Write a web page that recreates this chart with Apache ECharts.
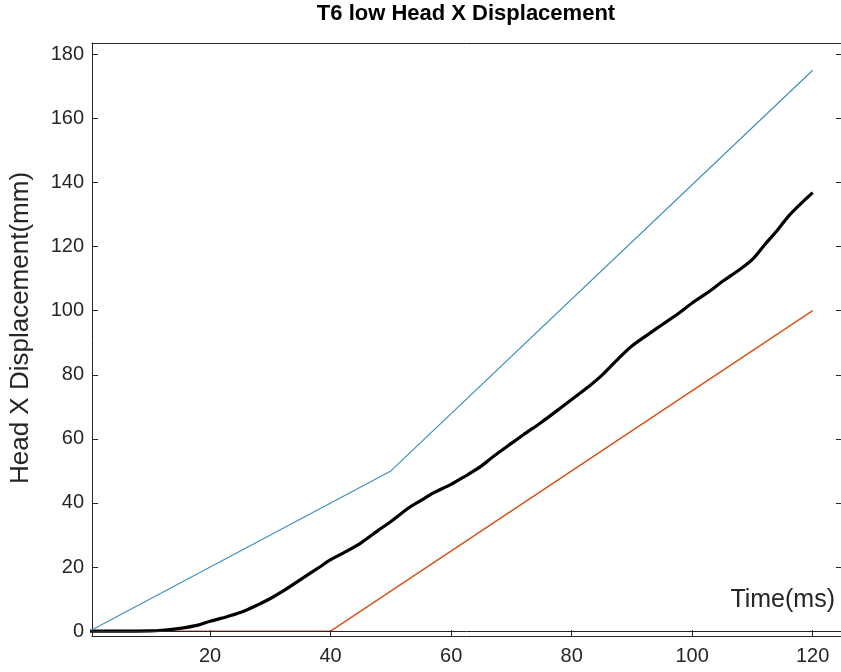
<!DOCTYPE html>
<html>
<head>
<meta charset="utf-8">
<script src="https://cdn.jsdelivr.net/npm/echarts@6/dist/echarts.min.js"></script>
<style>
html,body{margin:0;padding:0;background:#fff;}
#main{width:841px;height:672px;}
</style>
</head>
<body>
<div id="main"></div>
<script>
// ---- data ----
const xTicks = [20, 40, 60, 80, 100, 120];
const yTicks = [0, 20, 40, 60, 80, 100, 120, 140, 160, 180];

const upperTime = [0, 50, 120];
const upperDisp = [0, 50, 175];

const lowerTime = [0, 40, 120];
const lowerDisp = [0, 0, 100];

const headTime = [0, 5, 10, 12, 15, 18, 20, 22, 25, 28, 30, 32, 35, 38, 40, 42, 45, 48, 50, 53, 55, 57, 60, 62, 65, 67, 70, 72, 75, 78, 80, 83, 85, 88, 90, 93, 95, 98, 100, 103, 105, 108, 110, 112, 114, 116, 118, 120];
const headDisp = [0, 0, 0.1, 0.3, 0.9, 1.9, 3.1, 4.1, 5.8, 8.3, 10.2, 12.4, 16.1, 19.8, 22.3, 24.3, 27.5, 31.6, 34.2, 38.5, 40.8, 43.1, 45.8, 48, 51.5, 54.5, 58.6, 61.3, 65.2, 69.4, 72.3, 76.6, 79.8, 85.5, 89, 93, 95.6, 99.5, 102.4, 106.2, 109.1, 113, 116, 120.5, 124.8, 129.5, 133.3, 136.8];

const pairs = (xs, ys) => xs.map((x, i) => [x, ys[i]]);

const axisColor = '#262626';
const FONT = 'Liberation Sans, Arial, sans-serif';

const chart = echarts.init(document.getElementById('main'), null, {renderer: 'canvas'});
chart.setOption({
  animation: false,
  backgroundColor: '#fff',
  title: {
    text: 'T6 low Head X Displacement',
    left: 461, top: -2, textAlign: 'center',
    textStyle: {fontFamily: FONT, fontSize: 22, fontWeight: 'bold', color: '#000'}
  },
  grid: {left: 92, top: 43, right: -2, bottom: 36, containLabel: false},
  xAxis: [{
    type: 'value', min: 0.4, max: 124.7,
    axisLine: {show: true, onZero: false, lineStyle: {color: axisColor, width: 1}},
    axisTick: {show: true, inside: true, length: 6, customValues: xTicks, lineStyle: {color: axisColor}},
    axisLabel: {customValues: xTicks, fontFamily: FONT, fontSize: 20, color: axisColor, margin: 10},
    splitLine: {show: false}
  }, {
    type: 'value', position: 'top', min: 0.4, max: 124.7,
    axisLine: {show: true, onZero: false, lineStyle: {color: axisColor, width: 1}},
    axisTick: {show: false}, axisLabel: {show: false}, splitLine: {show: false}
  }],
  yAxis: [{
    type: 'value', min: -1.5, max: 183.5,
    axisLine: {show: true, onZero: false, lineStyle: {color: axisColor, width: 1}},
    axisTick: {show: true, inside: true, length: 6, customValues: yTicks, lineStyle: {color: axisColor}},
    axisLabel: {customValues: yTicks, fontFamily: FONT, fontSize: 20, color: axisColor, margin: 8},
    splitLine: {show: false}
  }, {
    type: 'value', position: 'right', min: -1.5, max: 183.5,
    axisLine: {show: true, onZero: false, lineStyle: {color: axisColor, width: 1}},
    axisTick: {show: true, inside: true, length: 5, customValues: yTicks, lineStyle: {color: axisColor}},
    axisLabel: {show: false}, splitLine: {show: false}
  }],
  graphic: [{
    type: 'text', right: 6, top: 588,
    style: {text: 'Time(ms)', font: '25px ' + FONT, fill: axisColor}
  }, {
    type: 'text', x: 21, y: 328, rotation: Math.PI / 2,
    style: {text: 'Head X Displacement(mm)', font: '26px ' + FONT, fill: axisColor,
            align: 'center', verticalAlign: 'middle'}
  }],
  series: [{
    name: 'Lower', type: 'line', data: pairs(lowerTime, lowerDisp),
    showSymbol: false, lineStyle: {color: '#D95319', width: 1.5}, z: 2,
    markLine: {
      silent: true, symbol: 'none', label: {show: false},
      lineStyle: {color: axisColor, width: 1, type: 'solid'},
      data: [{yAxis: 0}]
    }
  }, {
    name: 'Head', type: 'line', data: pairs(headTime, headDisp), smooth: 0.3,
    showSymbol: false, lineStyle: {color: '#000', width: 3.2}, z: 3
  }, {
    name: 'Upper', type: 'line', data: pairs(upperTime, upperDisp),
    showSymbol: false, lineStyle: {color: '#3A8FBA', width: 1.2}, z: 4
  }]
});
</script>
</body>
</html>
